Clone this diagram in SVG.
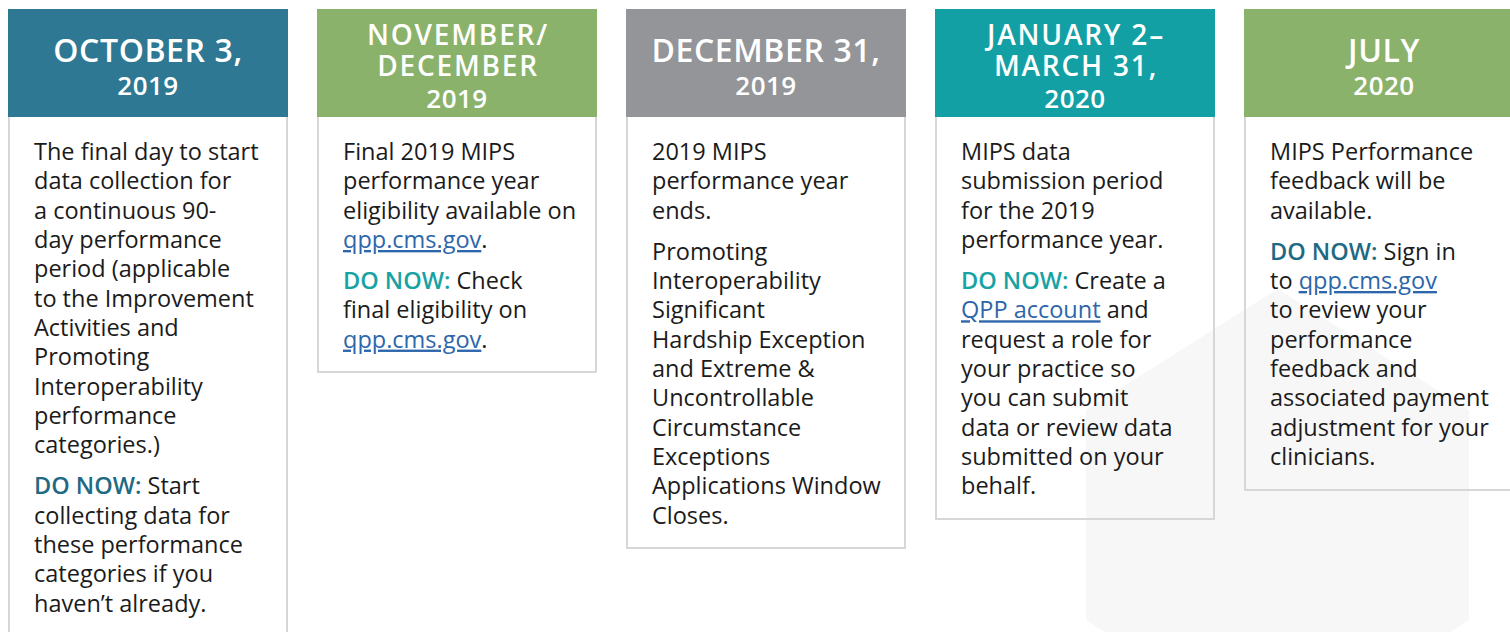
<svg xmlns="http://www.w3.org/2000/svg" width="1510" height="632" viewBox="0 0 1510 632">
<style>
.frame{fill:none;stroke:#d7d7d7;stroke-width:2}
.h1{font-family:"Open Sans","Liberation Sans",sans-serif;font-weight:600;font-size:32px;letter-spacing:0.6px;fill:#ffffff;text-anchor:middle}
.h3{font-family:"Open Sans","Liberation Sans",sans-serif;font-weight:600;font-size:28px;letter-spacing:1.8px;fill:#ffffff;text-anchor:middle}
.h2{font-family:"Open Sans","Liberation Sans",sans-serif;font-weight:600;font-size:26px;letter-spacing:0.5px;fill:#ffffff;text-anchor:middle}
.b{font-family:"Open Sans","Liberation Sans",sans-serif;font-size:23.5px;fill:#1b1b1b}
.dn1{font-weight:600;fill:#1e6a84}
.dn2{font-weight:600;fill:#17a2a4}
.lk{fill:#2d66aa;text-decoration:underline}
</style>
<g id="background">
<polygon points="1086,410 1277.5,289 1469,410 1469,620 1277.5,741 1086,620" fill="#f7f7f7"/>
</g>
<g id="connectors"></g>
<g id="node-oct3">
<rect class="frame" x="9" y="10" width="278" height="640"/>
<rect x="8" y="9" width="280" height="108" fill="#2f7893"/>
<text class="h1" x="148" y="62">OCTOBER 3,</text>
<text class="h2" x="148" y="95">2019</text>
<text class="b">
<tspan x="34" y="160">The final day to start</tspan>
<tspan x="34" y="189.3">data collection for</tspan>
<tspan x="34" y="218.6">a continuous 90-</tspan>
<tspan x="34" y="248">day performance</tspan>
<tspan x="34" y="277.3">period (applicable</tspan>
<tspan x="34" y="306.6">to the Improvement</tspan>
<tspan x="34" y="336">Activities and</tspan>
<tspan x="34" y="365.3">Promoting</tspan>
<tspan x="34" y="394.6">Interoperability</tspan>
<tspan x="34" y="424">performance</tspan>
<tspan x="34" y="453.3">categories.)</tspan>
<tspan x="34" y="494.3"><tspan class="dn1">DO NOW:</tspan> Start</tspan>
<tspan x="34" y="523.6">collecting data for</tspan>
<tspan x="34" y="553">these performance</tspan>
<tspan x="34" y="582.3">categories if you</tspan>
<tspan x="34" y="611.6">haven’t already.</tspan>
</text>
</g>
<g id="node-novdec">
<rect class="frame" x="318" y="10" width="278" height="362"/>
<rect x="317" y="9" width="280" height="108" fill="#8ab26a"/>
<text class="h3" x="458" y="45">NOVEMBER/</text>
<text class="h3" x="458" y="76">DECEMBER</text>
<text class="h2" x="457" y="108">2019</text>
<text class="b">
<tspan x="343" y="160">Final 2019 MIPS</tspan>
<tspan x="343" y="189.3">performance year</tspan>
<tspan x="343" y="218.6">eligibility available on</tspan>
<tspan x="343" y="248"><tspan class="lk">qpp.cms.gov</tspan>.</tspan>
<tspan x="343" y="289"><tspan class="dn2">DO NOW:</tspan> Check</tspan>
<tspan x="343" y="318.3">final eligibility on</tspan>
<tspan x="343" y="347.6"><tspan class="lk">qpp.cms.gov</tspan>.</tspan>
</text>
</g>
<g id="node-dec31">
<rect class="frame" x="627" y="10" width="278" height="538"/>
<rect x="626" y="9" width="280" height="108" fill="#939598"/>
<text class="h1" x="766" y="62">DECEMBER 31,</text>
<text class="h2" x="766" y="95">2019</text>
<text class="b">
<tspan x="652" y="160">2019 MIPS</tspan>
<tspan x="652" y="189.3">performance year</tspan>
<tspan x="652" y="218.6">ends.</tspan>
<tspan x="652" y="259.6">Promoting</tspan>
<tspan x="652" y="289">Interoperability</tspan>
<tspan x="652" y="318.3">Significant</tspan>
<tspan x="652" y="347.6">Hardship Exception</tspan>
<tspan x="652" y="377">and Extreme &amp;</tspan>
<tspan x="652" y="406.3">Uncontrollable</tspan>
<tspan x="652" y="435.6">Circumstance</tspan>
<tspan x="652" y="465">Exceptions</tspan>
<tspan x="652" y="494.3">Applications Window</tspan>
<tspan x="652" y="523.6">Closes.</tspan>
</text>
</g>
<g id="node-janmar">
<rect class="frame" x="936" y="10" width="278" height="509"/>
<rect x="935" y="9" width="280" height="108" fill="#13a0a4"/>
<text class="h3" x="1076" y="45">JANUARY 2–</text>
<text class="h3" x="1076" y="76">MARCH 31,</text>
<text class="h2" x="1075" y="108">2020</text>
<text class="b">
<tspan x="961" y="160">MIPS data</tspan>
<tspan x="961" y="189.3">submission period</tspan>
<tspan x="961" y="218.6">for the 2019</tspan>
<tspan x="961" y="248">performance year.</tspan>
<tspan x="961" y="289"><tspan class="dn2">DO NOW:</tspan> Create a</tspan>
<tspan x="961" y="318.3"><tspan class="lk">QPP account</tspan> and</tspan>
<tspan x="961" y="347.6">request a role for</tspan>
<tspan x="961" y="377">your practice so</tspan>
<tspan x="961" y="406.3">you can submit</tspan>
<tspan x="961" y="435.6">data or review data</tspan>
<tspan x="961" y="465">submitted on your</tspan>
<tspan x="961" y="494.3">behalf.</tspan>
</text>
</g>
<g id="node-july">
<rect class="frame" x="1245" y="10" width="278" height="480"/>
<rect x="1244" y="9" width="280" height="108" fill="#8ab26a"/>
<text class="h1" x="1384" y="62">JULY</text>
<text class="h2" x="1384" y="95">2020</text>
<text class="b">
<tspan x="1270" y="160">MIPS Performance</tspan>
<tspan x="1270" y="189.3">feedback will be</tspan>
<tspan x="1270" y="218.6">available.</tspan>
<tspan x="1270" y="259.6"><tspan class="dn1">DO NOW:</tspan> Sign in</tspan>
<tspan x="1270" y="289">to <tspan class="lk">qpp.cms.gov</tspan></tspan>
<tspan x="1270" y="318.3">to review your</tspan>
<tspan x="1270" y="347.6">performance</tspan>
<tspan x="1270" y="377">feedback and</tspan>
<tspan x="1270" y="406.3">associated payment</tspan>
<tspan x="1270" y="435.6">adjustment for your</tspan>
<tspan x="1270" y="465">clinicians.</tspan>
</text>
</g>
</svg>
